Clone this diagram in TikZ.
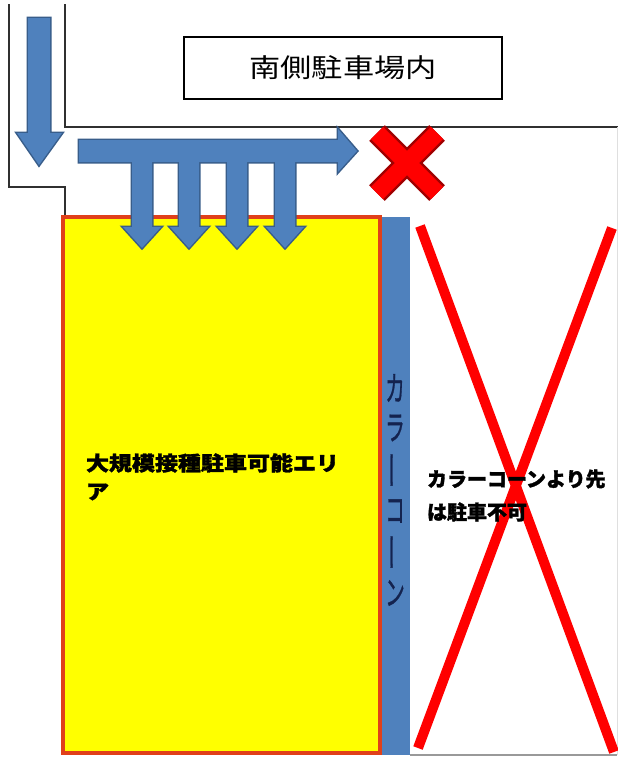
\documentclass[tikz,border=0pt]{standalone}
\usepackage{fontspec}
\usepackage{graphicx}
\newfontfamily\cjk[BoldFeatures={FakeBold=1.5}]{Noto Sans CJK JP}
\newfontfamily\cjkv[FakeBold=1]{Noto Sans CJK JP}
\definecolor{arrowblue}{HTML}{4F81BD}
\definecolor{arrowedge}{HTML}{385D8A}
\definecolor{areared}{HTML}{E0401A}
\definecolor{xred}{HTML}{FF0000}
\definecolor{xedge}{HTML}{A00000}
\definecolor{navy}{HTML}{14234F}
\definecolor{wallgray}{HTML}{303030}
\definecolor{areayellow}{HTML}{FFFF00}
\begin{document}
\begin{tikzpicture}[x=1pt,y=-1pt,
  wall/.style={draw=wallgray,line width=1.3pt},
  faint/.style={draw=gray!25,line width=1pt},
  arrowborder/.style={draw=arrowedge,line width=3pt,line join=miter},
  arrowfill/.style={fill=arrowblue},
  label/.style={inner sep=0pt,outer sep=0pt},
  vchar/.style={inner sep=0pt,text=navy,font=\cjkv\fontsize{34}{34}\selectfont}]
\fill[white] (0,0) rectangle (618,758);
\useasboundingbox (0,0) rectangle (618,758);

% walls
\draw[wall] (9,4) -- (9,187) -- (65,187) -- (65,217);
\draw[wall] (65,4) -- (65,127) -- (618,127);
\draw[faint] (617,127) -- (617,755);
\draw[draw=gray!80,line width=1.3pt] (410,755) -- (617,755);

% title box
\node[draw=black,line width=2pt,minimum width=318pt,minimum height=62pt,inner sep=0pt] (title) at (343,68) {};
\node[label] (titletext) at (title.center) {\scalebox{1.2}[1]{\cjk\fontsize{26}{26}\selectfont 南側駐車場内}};

% parking area
\filldraw[fill=areayellow,draw=areared,line width=3.5pt] (63,217) rectangle (380,753);
\coordinate (areaTL) at (63,217);
\fill[arrowblue] (382,217) rectangle (410,755);

% arrows: borders first, then fills (merged outline)
\foreach \s in {arrowborder,arrowfill}{
  \path[\s] (28,18) -- (50,18) -- (50,133) -- (62,133) -- (39,165) -- (17,133) -- (28,133) -- cycle;
  \path[\s] (79,140) -- (338,140) -- (338,129) -- (357,151) -- (338,172) -- (338,162) -- (79,162) -- cycle;
  \foreach \c in {142,189,237,285}{
    \path[\s] (\c-10,156) -- (\c+10,156) -- (\c+10,227) -- (\c+19,227) -- (\c,248) -- (\c-19,227) -- (\c-10,227) -- cycle;
  }
}
\fill[arrowblue] (81,142) rectangle (336,160);

% small red X
\coordinate (xa) at (377,133);
\coordinate (xb) at (437,193);
\coordinate (xc) at (437,133);
\coordinate (xd) at (377,193);
\draw[xedge,line width=22pt] (xa) -- (xb) (xc) -- (xd);
\draw[xred,line width=17pt] (xa) -- (xb) (xc) -- (xd);

% big red X
\coordinate (ba) at (420,226);
\coordinate (bb) at (614,752);
\coordinate (bc) at (612,228);
\coordinate (bd) at (418,748);
\draw[xred,line width=10pt] (ba) -- (bb) (bc) -- (bd);

% texts
\node[label,anchor=west] (area1) at (86,463) {\scalebox{1.15}[1]{\cjk\bfseries\fontsize{20}{20}\selectfont 大規模接種駐車可能エリ}};
\node[label,anchor=west] (area2) at (86,492) {\scalebox{1.15}[1]{\cjk\bfseries\fontsize{20}{20}\selectfont ア}};
\node[label,anchor=west] (ng1) at (427,479) {\cjk\bfseries\fontsize{20}{20}\selectfont カラーコーンより先};
\node[label,anchor=west] (ng2) at (427,512) {\cjk\bfseries\fontsize{20}{20}\selectfont は駐車不可};

% vertical text in the cone bar
\node[vchar] (v1) at (395,388) {\scalebox{0.58}[1]{カ}};
\node[vchar] (v2) at (395,428) {\scalebox{0.58}[1]{ラ}};
\node[vchar] (v3) at (395,470) {\rotatebox{90}{\scalebox{1.15}[0.6]{ー}}};
\node[vchar] (v4) at (395,511) {\scalebox{0.58}[1]{コ}};
\node[vchar] (v5) at (395,552) {\rotatebox{90}{\scalebox{1.15}[0.6]{ー}}};
\node[vchar] (v6) at (395,593) {\scalebox{0.58}[1]{ン}};
\end{tikzpicture}
\end{document}
